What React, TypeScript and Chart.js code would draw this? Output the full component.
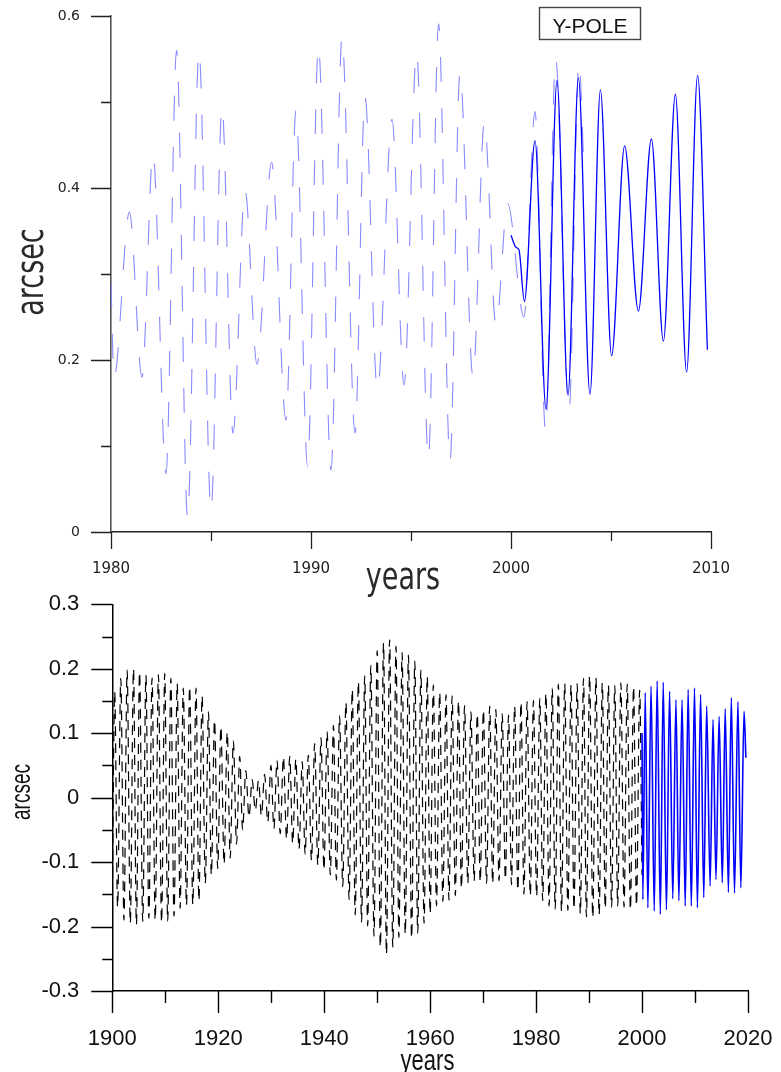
import React, { useEffect, useRef } from "react";
import { Chart, registerables } from "chart.js";

Chart.register(...registerables);

type Pt = [number, number];

// ---------------- TOP CHART (Y-POLE, 1980-2010) ----------------
const topDashed: Pt[] = [
  [1980.0, 0.29], [1980.15, 0.179], [1980.92, 0.372], [1981.55, 0.18], [1982.1, 0.44],
  [1982.75, 0.068], [1983.28, 0.56], [1983.83, 0.016], [1984.4, 0.56], [1985.0, 0.024],
  [1985.55, 0.495], [1986.1, 0.115], [1986.7, 0.398], [1987.3, 0.195], [1988.03, 0.43],
  [1988.75, 0.13], [1989.25, 0.49], [1989.83, 0.076], [1990.37, 0.566], [1991.0, 0.072],
  [1991.55, 0.576], [1992.2, 0.115], [1992.7, 0.506], [1993.32, 0.165], [1994.05, 0.48],
  [1994.65, 0.171], [1995.28, 0.558], [1995.87, 0.0845], [1996.38, 0.591], [1996.95, 0.082],
  [1997.45, 0.535], [1998.1, 0.18], [1998.67, 0.477], [1999.25, 0.24], [1999.83, 0.382],
  [2000.65, 0.25], [2001.2, 0.489], [2001.73, 0.117], [2002.23, 0.551], [2002.9, 0.14],
  [2003.4, 0.547], [2003.65, 0.42],
];

const topSolid: Pt[] = [
  [2000.0, 0.345], [2000.25, 0.331], [2000.4, 0.328], [2000.67, 0.268], [2001.2, 0.455],
  [2001.75, 0.143], [2002.3, 0.525], [2002.85, 0.159], [2003.37, 0.528], [2003.95, 0.16],
  [2004.47, 0.514], [2005.03, 0.205], [2005.68, 0.449], [2006.37, 0.257], [2007.02, 0.457],
  [2007.62, 0.222], [2008.22, 0.509], [2008.78, 0.186], [2009.33, 0.531], [2009.82, 0.212],
];

const topXLabels = [1980, 1990, 2000, 2010];
const topXMinor = [1985, 1995, 2005];
const topYLabels = [0, 0.2, 0.4, 0.6];
const topYMinor = [0.1, 0.3, 0.5];

// ---------------- BOTTOM CHART (1900-2020) ----------------
const bottomDashed: Pt[] = [
  [1900.0, -0.15],
  [1900.45, 0.165], [1901.0, -0.17], [1901.6, 0.185], [1902.2, -0.19],
  [1902.8, 0.198], [1903.4, -0.195], [1904.0, 0.2], [1904.55, -0.197],
  [1905.15, 0.195], [1905.75, -0.192], [1906.35, 0.19], [1906.9, -0.187],
  [1907.5, 0.186], [1908.1, -0.19], [1908.7, 0.191], [1909.3, -0.194],
  [1909.9, 0.193], [1910.45, -0.192], [1911.05, 0.185], [1911.65, -0.184],
  [1912.25, 0.177], [1912.8, -0.172], [1913.4, 0.17], [1914.0, -0.167],
  [1914.6, 0.172], [1915.2, -0.166], [1915.8, 0.17], [1916.35, -0.16],
  [1916.95, 0.158], [1917.55, -0.133], [1918.15, 0.133], [1918.7, -0.12],
  [1919.3, 0.12], [1919.9, -0.11], [1920.5, 0.11], [1921.1, -0.103],
  [1921.7, 0.102], [1922.25, -0.094], [1922.85, 0.088], [1923.45, -0.072],
  [1924.05, 0.064], [1924.6, -0.05], [1925.2, 0.042], [1925.8, -0.03],
  [1926.4, 0.028], [1927.0, -0.02], [1927.6, 0.026], [1928.15, -0.028],
  [1928.75, 0.036], [1929.35, -0.038], [1929.95, 0.05], [1930.5, -0.048],
  [1931.1, 0.058], [1931.7, -0.056], [1932.3, 0.063], [1932.9, -0.064],
  [1933.5, 0.064], [1934.05, -0.071], [1934.65, 0.06], [1935.25, -0.08],
  [1935.85, 0.056], [1936.4, -0.088], [1937.0, 0.066], [1937.6, -0.097],
  [1938.2, 0.084], [1938.8, -0.104], [1939.4, 0.093], [1939.95, -0.112],
  [1940.55, 0.103], [1941.15, -0.12], [1941.75, 0.112], [1942.3, -0.128],
  [1942.9, 0.127], [1943.5, -0.138], [1944.1, 0.148], [1944.7, -0.158],
  [1945.3, 0.168], [1945.85, -0.182], [1946.45, 0.18], [1947.05, -0.193],
  [1947.65, 0.189], [1948.2, -0.199], [1948.8, 0.205], [1949.4, -0.215],
  [1950.0, 0.228], [1950.6, -0.232], [1951.2, 0.24], [1951.75, -0.243],
  [1952.35, 0.245], [1952.95, -0.232], [1953.55, 0.235], [1954.1, -0.217],
  [1954.7, 0.225], [1955.3, -0.212], [1955.9, 0.221], [1956.5, -0.218],
  [1957.1, 0.212], [1957.65, -0.21], [1958.25, 0.198], [1958.85, -0.195],
  [1959.45, 0.188], [1960.0, -0.18], [1960.6, 0.175], [1961.2, -0.168],
  [1961.8, 0.163], [1962.4, -0.161], [1963.0, 0.16], [1963.55, -0.159],
  [1964.15, 0.158], [1964.75, -0.152], [1965.35, 0.15], [1965.9, -0.141],
  [1966.5, 0.143], [1967.1, -0.133], [1967.7, 0.133], [1968.3, -0.129],
  [1968.9, 0.13], [1969.45, -0.131], [1970.05, 0.136], [1970.65, -0.133],
  [1971.25, 0.142], [1971.8, -0.133], [1972.4, 0.137], [1973.0, -0.129],
  [1973.6, 0.13], [1974.2, -0.127], [1974.8, 0.128], [1975.35, -0.135],
  [1975.95, 0.142], [1976.55, -0.144], [1977.15, 0.148], [1977.7, -0.15],
  [1978.3, 0.149], [1978.9, -0.152], [1979.5, 0.151], [1980.1, -0.153],
  [1980.7, 0.154], [1981.25, -0.16], [1981.85, 0.162], [1982.45, -0.168],
  [1983.05, 0.17], [1983.6, -0.173], [1984.2, 0.176], [1984.8, -0.176],
  [1985.4, 0.177], [1986.0, -0.175], [1986.6, 0.175], [1987.15, -0.173],
  [1987.75, 0.177], [1988.35, -0.18], [1988.95, 0.185], [1989.5, -0.185],
  [1990.1, 0.189], [1990.7, -0.186], [1991.3, 0.186], [1991.9, -0.182],
  [1992.5, 0.178], [1993.05, -0.172], [1993.65, 0.174], [1994.25, -0.17],
  [1994.85, 0.174], [1995.4, -0.168], [1996.0, 0.178], [1996.6, -0.17],
  [1997.2, 0.176], [1997.8, -0.174], [1998.4, 0.172], [1998.95, -0.168],
  [1999.55, 0.167], [2000.0, -0.12],
];

const bottomSolid: Pt[] = [
  [2000.0, 0.1], [2000.15, -0.158], [2000.6, 0.163], [2001.1, -0.171], [2001.7, 0.173],
  [2002.3, -0.176], [2002.85, 0.181], [2003.45, -0.181], [2004.0, 0.179], [2004.6, -0.174],
  [2005.2, 0.165], [2005.8, -0.157], [2006.4, 0.152], [2006.95, -0.16], [2007.55, 0.152],
  [2008.15, -0.168], [2008.7, 0.168], [2009.3, -0.168], [2009.9, 0.17], [2010.45, -0.171],
  [2011.05, 0.16], [2011.65, -0.155], [2012.2, 0.142], [2012.85, -0.137], [2013.4, 0.121],
  [2013.95, -0.127], [2014.55, 0.126], [2015.15, -0.132], [2015.7, 0.138], [2016.3, -0.147],
  [2016.85, 0.155], [2017.45, -0.148], [2018.1, 0.149], [2018.65, -0.14], [2019.25, 0.134],
  [2019.6, 0.062],
];

const bottomXLabels = [1900, 1920, 1940, 1960, 1980, 2000, 2020];
const bottomXMinor = [1910, 1930, 1950, 1970, 1990, 2010];
const bottomYLabels = [-0.3, -0.2, -0.1, 0, 0.1, 0.2, 0.3];
const bottomYMinor = [-0.25, -0.15, -0.05, 0.05, 0.15, 0.25];

// ---------------- helpers ----------------
const toXY = (pts: Pt[]) => pts.map(([x, y]) => ({ x, y }));

type TextSpec = {
  text: string; x: number; y: number; font: string; color: string;
  rotate?: boolean; sy?: number; dy?: number;
};

function decorPlugin(spec: any) {
  return {
    id: "decor",
    afterDraw(chart: any) {
      const ctx = chart.ctx as CanvasRenderingContext2D;
      const xs = chart.scales.x;
      const ys = chart.scales.y;
      const a = chart.chartArea;
      ctx.save();
      ctx.strokeStyle = spec.tickColor;
      ctx.lineWidth = spec.tickWidth;
      ctx.beginPath();
      const hy = (v: number) => Math.round(ys.getPixelForValue(v)) + 0.5;
      const vx = (v: number) => Math.round(xs.getPixelForValue(v)) + 0.5;
      spec.yMajor.forEach((v: number) => { const y = hy(v); ctx.moveTo(a.left - spec.yMajorLen, y); ctx.lineTo(a.left, y); });
      spec.yMinor.forEach((v: number) => { const y = hy(v); ctx.moveTo(a.left - spec.yMinorLen, y); ctx.lineTo(a.left, y); });
      spec.xMajor.forEach((v: number) => { const x = vx(v); ctx.moveTo(x, a.bottom); ctx.lineTo(x, a.bottom + spec.xMajorLen); });
      spec.xMinor.forEach((v: number) => { const x = vx(v); ctx.moveTo(x, a.bottom); ctx.lineTo(x, a.bottom + spec.xMinorLen); });
      ctx.stroke();

      (spec.texts as TextSpec[]).forEach((t) => {
        ctx.save();
        ctx.translate(t.x, t.y);
        if (t.rotate) ctx.rotate(-Math.PI / 2);
        ctx.scale(1, t.sy || 1);
        ctx.font = t.font;
        ctx.fillStyle = t.color;
        ctx.textAlign = "center";
        ctx.textBaseline = "alphabetic";
        ctx.fillText(t.text, 0, t.dy || 0);
        ctx.restore();
      });

      if (spec.box) {
        const b = spec.box;
        ctx.strokeStyle = b.color;
        ctx.lineWidth = b.width;
        ctx.strokeRect(b.x, b.y, b.w, b.h);
        ctx.font = b.font;
        ctx.fillStyle = b.textColor;
        ctx.textAlign = "center";
        ctx.textBaseline = "alphabetic";
        ctx.fillText(b.text, b.x + b.w / 2, b.baseline);
      }
      ctx.restore();
    },
  };
}

const fitY = (w: number) => (s: any) => {
  s.width = w;
  s.paddingTop = 0;
  s.paddingBottom = 0;
};
const fitX = (h: number) => (s: any) => {
  s.height = h;
  s.paddingLeft = 0;
  s.paddingRight = 0;
};

function topConfig(): any {
  return {
    type: "line",
    data: {
      datasets: [
        {
          data: toXY(topSolid), borderColor: "#0000ff", borderWidth: 1.3, pointRadius: 0,
          cubicInterpolationMode: "monotone", fill: false, order: 0,
        },
        {
          data: toXY(topDashed), borderColor: "#8a8aff", borderWidth: 1.1, pointRadius: 0,
          borderDash: [25, 26], cubicInterpolationMode: "monotone", fill: false, order: 1,
        },
      ],
    },
    options: {
      responsive: false, animation: false, devicePixelRatio: 1, events: [],
      layout: { autoPadding: false, padding: { left: 0, top: 16, right: 70, bottom: 0 } },
      plugins: { legend: { display: false }, tooltip: { enabled: false }, title: { display: false } },
      scales: {
        x: {
          type: "linear", min: 1980, max: 2010,
          afterFit: fitX(68),
          afterBuildTicks: (s: any) => { s.ticks = topXLabels.map((v) => ({ value: v })); },
          grid: { display: false, drawTicks: false },
          border: { display: true, color: "#222", width: 1.5 },
          ticks: {
            autoSkip: false, maxRotation: 0, minRotation: 0, padding: 28, color: "#222",
            font: { family: "'DejaVu Sans', Verdana, sans-serif", size: 15, lineHeight: 1.2 },
            callback: (v: any) => String(v),
          },
        },
        y: {
          type: "linear", min: 0, max: 0.6,
          afterFit: fitY(111),
          afterBuildTicks: (s: any) => { s.ticks = topYLabels.map((v) => ({ value: v })); },
          grid: { display: false, drawTicks: false },
          border: { display: true, color: "#555", width: 1.6 },
          ticks: {
            padding: 31, color: "#222",
            font: { family: "'DejaVu Sans', Verdana, sans-serif", size: 14, lineHeight: 1.2 },
            callback: (v: any) => String(v),
          },
        },
      },
    },
    plugins: [
      decorPlugin({
        tickColor: "#222", tickWidth: 1.3,
        yMajor: topYLabels, yMinor: topYMinor, yMajorLen: 20, yMinorLen: 10,
        xMajor: topXLabels, xMinor: topXMinor, xMajorLen: 17, xMinorLen: 9,
        texts: [
          { text: "arcsec", x: 33, y: 272, font: "27px 'DejaVu Sans', Verdana, sans-serif", color: "#2a2a2a", rotate: true, sy: 1.4, dy: 7.4 },
          { text: "years", x: 403, y: 589, font: "27px 'DejaVu Sans', Verdana, sans-serif", color: "#2a2a2a", sy: 1.35 },
        ],
        box: {
          x: 539.5, y: 7.5, w: 101, h: 32, color: "#444", width: 1.4,
          text: "Y-POLE", font: "21px 'Liberation Sans', Arial, sans-serif", textColor: "#111", baseline: 33,
        },
      }),
    ],
  };
}

const BOTTOM_TOP = 580;
const BOTTOM_H = 492;

function bottomConfig(): any {
  return {
    type: "line",
    data: {
      datasets: [
        {
          data: toXY(bottomSolid), borderColor: "#0000ff", borderWidth: 1.6, pointRadius: 0,
          cubicInterpolationMode: "monotone", fill: false, order: 0,
        },
        {
          data: toXY(bottomDashed), borderColor: "#000000", borderWidth: 1.2, pointRadius: 0,
          borderDash: [10, 7], cubicInterpolationMode: "monotone", fill: false, order: 1,
        },
      ],
    },
    options: {
      responsive: false, animation: false, devicePixelRatio: 1, events: [],
      layout: { autoPadding: false, padding: { left: 0, top: 604.3 - BOTTOM_TOP, right: 33, bottom: 0 } },
      plugins: { legend: { display: false }, tooltip: { enabled: false }, title: { display: false } },
      scales: {
        x: {
          type: "linear", min: 1900, max: 2020,
          afterFit: fitX(BOTTOM_H - (991 - BOTTOM_TOP)),
          afterBuildTicks: (s: any) => { s.ticks = bottomXLabels.map((v) => ({ value: v })); },
          grid: { display: false, drawTicks: false },
          border: { display: true, color: "#000", width: 1.5 },
          ticks: {
            autoSkip: false, maxRotation: 0, minRotation: 0, padding: 34.5, color: "#111",
            font: { family: "'Liberation Sans', Arial, sans-serif", size: 22, lineHeight: 1.2 },
            callback: (v: any) => String(v),
          },
        },
        y: {
          type: "linear", min: -0.3, max: 0.3,
          afterFit: fitY(112.3),
          afterBuildTicks: (s: any) => { s.ticks = bottomYLabels.map((v) => ({ value: v })); },
          grid: { display: false, drawTicks: false },
          border: { display: true, color: "#000", width: 1.5 },
          ticks: {
            padding: 33, color: "#111",
            font: { family: "'Liberation Sans', Arial, sans-serif", size: 22, lineHeight: 1.2 },
            callback: (v: any) => String(v),
          },
        },
      },
    },
    plugins: [
      decorPlugin({
        tickColor: "#000", tickWidth: 1.4,
        yMajor: bottomYLabels, yMinor: bottomYMinor, yMajorLen: 21, yMinorLen: 10,
        xMajor: bottomXLabels, xMinor: bottomXMinor, xMajorLen: 22, xMinorLen: 12,
        texts: [
          { text: "arcsec", x: 23, y: 792 - BOTTOM_TOP, font: "19px 'Liberation Sans', Arial, sans-serif", color: "#111", rotate: true, sy: 1.5, dy: 4.9 },
          { text: "years", x: 427.5, y: 1069.5 - BOTTOM_TOP, font: "22px 'Liberation Sans', Arial, sans-serif", color: "#111", sy: 1.3 },
        ],
      }),
    ],
  };
}

function ChartCanvas({ make, top, height }: { make: () => any; top: number; height: number }) {
  const ref = useRef<HTMLCanvasElement>(null);
  useEffect(() => {
    const chart = new Chart(ref.current as HTMLCanvasElement, make());
    return () => chart.destroy();
  }, []);
  return (
    <canvas
      ref={ref}
      width={781}
      height={height}
      style={{ position: "absolute", left: 0, top, width: 781, height, display: "block" }}
    />
  );
}

export default function App() {
  return (
    <div style={{ position: "absolute", left: 0, top: 0, width: 781, height: 1072, background: "#ffffff", overflow: "hidden" }}>
      <ChartCanvas make={topConfig} top={0} height={600} />
      <ChartCanvas make={bottomConfig} top={BOTTOM_TOP} height={BOTTOM_H} />
    </div>
  );
}
